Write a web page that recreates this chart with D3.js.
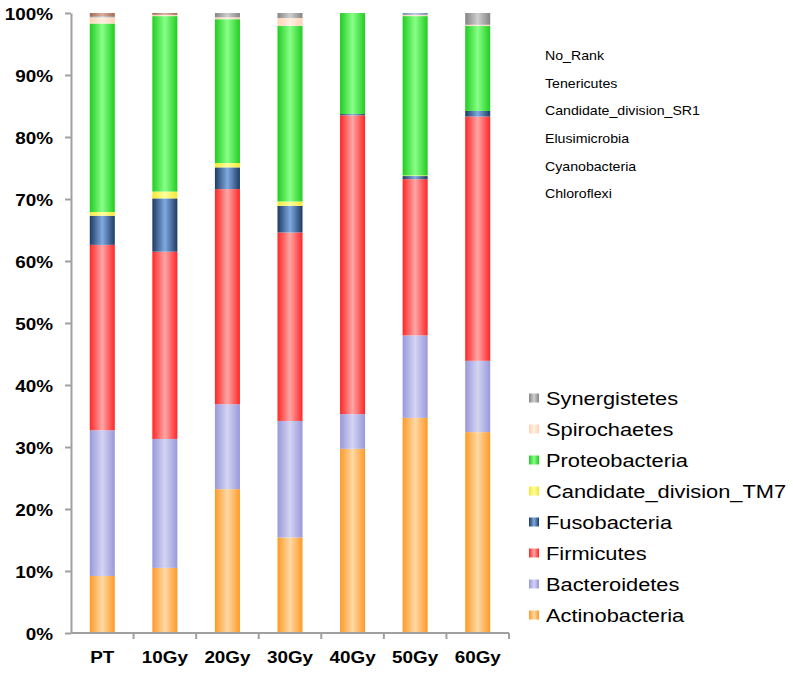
<!DOCTYPE html>
<html>
<head>
<meta charset="utf-8">
<script src="https://cdn.jsdelivr.net/npm/d3@7"></script>
<style>
  body { margin: 0; background: #fff; }
  text { font-family: Arial, "Liberation Sans", sans-serif; fill: #000; }
</style>
</head>
<body>
<svg id="chart" width="793" height="674"></svg>
<script>
// Data (percent of reads per sample)
const samples = ["PT", "10Gy", "20Gy", "30Gy", "40Gy", "50Gy", "60Gy"];
const yTicks = [0, 0.1, 0.2, 0.3, 0.4, 0.5, 0.6, 0.7, 0.8, 0.9, 1.0];

// stacking order, bottom to top
const phyla = ["Actinobacteria", "Bacteroidetes", "Firmicutes", "Fusobacteria",
  "Candidate_division_TM7", "Proteobacteria", "Spirochaetes", "Synergistetes",
  "Chloroflexi", "Cyanobacteria", "Elusimicrobia", "Candidate_division_SR1",
  "Tenericutes", "No_Rank"];

const actinobacteria = [9.2, 10.5, 23.2, 15.4, 29.7, 34.7, 32.4];
const bacteroidetes  = [23.5, 20.8, 13.7, 18.8, 5.6, 13.3, 11.5];
const firmicutes     = [29.9, 30.2, 34.7, 30.4, 48.2, 25.2, 39.4];
const fusobacteria   = [4.7, 8.6, 3.5, 4.3, 0.2, 0.5, 0.9];
const tm7            = [0.6, 1.1, 0.7, 0.7, 0.0, 0.1, 0.0];
const proteobacteria = [30.4, 28.3, 23.2, 28.3, 16.3, 25.7, 13.7];
const spirochaetes   = [1.0, 0.2, 0.3, 1.3, 0.0, 0.2, 0.2];
const synergistetes  = [0.2, 0.0, 0.7, 0.8, 0.0, 0.0, 1.9];
const chloroflexi    = [0.5, 0.3, 0.0, 0.0, 0.0, 0.0, 0.0];
const cyanobacteria  = [0.0, 0.0, 0.0, 0.0, 0.0, 0.3, 0.0];
const elusimicrobia  = [0, 0, 0, 0, 0, 0, 0];
const sr1            = [0, 0, 0, 0, 0, 0, 0];
const tenericutes    = [0, 0, 0, 0, 0, 0, 0];
const noRank         = [0, 0, 0, 0, 0, 0, 0];

const seriesValues = [actinobacteria, bacteroidetes, firmicutes, fusobacteria, tm7,
  proteobacteria, spirochaetes, synergistetes, chloroflexi, cyanobacteria,
  elusimicrobia, sr1, tenericutes, noRank];

// [edge, centre] colours for the horizontal bar shading
const shades = {
  "Actinobacteria": ["#ff9a26", "#ffd9a6"],
  "Bacteroidetes": ["#9898dc", "#d4d4f2"],
  "Firmicutes": ["#ff2626", "#ffa6a6"],
  "Fusobacteria": ["#1d3b63", "#80aae2"],
  "Candidate_division_TM7": ["#f4e830", "#ffffa0"],
  "Proteobacteria": ["#22cc22", "#88ff88"],
  "Spirochaetes": ["#ffd2b4", "#fff0e4"],
  "Synergistetes": ["#858585", "#cfcfcf"],
  "Chloroflexi": ["#a46a50", "#d8b0a0"],
  "Cyanobacteria": ["#7088b0", "#b8c8e0"],
  "Elusimicrobia": ["#ffffff", "#ffffff"],
  "Candidate_division_SR1": ["#ffffff", "#ffffff"],
  "Tenericutes": ["#ffffff", "#ffffff"],
  "No_Rank": ["#ffffff", "#ffffff"]
};

const bigLegend = ["Synergistetes", "Spirochaetes", "Proteobacteria", "Candidate_division_TM7",
  "Fusobacteria", "Firmicutes", "Bacteroidetes", "Actinobacteria"];
const smallLegend = ["No_Rank", "Tenericutes", "Candidate_division_SR1", "Elusimicrobia",
  "Cyanobacteria", "Chloroflexi"];

const table = samples.map((s, i) => {
  const row = { sample: s };
  phyla.forEach((p, j) => { row[p] = seriesValues[j][i] / 100; });
  return row;
});

const svg = d3.select("#chart");
const stretch = 1.18; // text in the source image is a bit wide
const boldStretch = 1.11;

const plotLeft = 71, plotRight = 509, plotTop = 13, plotBottom = 633;
const x = d3.scaleBand().domain(samples).range([plotLeft, plotRight]);
const y = d3.scaleLinear().domain([0, 1]).range([plotBottom, plotTop]);
const barW = x.bandwidth() * 0.4;

// gradients
const defs = svg.append("defs");
phyla.forEach((p, i) => {
  const g = defs.append("linearGradient").attr("id", "grad" + i)
    .attr("x1", "0").attr("x2", "1").attr("y1", "0").attr("y2", "0");
  g.append("stop").attr("offset", "0").attr("stop-color", shades[p][0]);
  g.append("stop").attr("offset", "0.5").attr("stop-color", shades[p][1]);
  g.append("stop").attr("offset", "1").attr("stop-color", shades[p][0]);
});

const stacked = d3.stack().keys(phyla)(table);

svg.append("g").selectAll("g")
  .data(stacked)
  .join("g")
  .attr("fill", (d, i) => `url(#grad${i})`)
  .selectAll("rect")
  .data(d => d)
  .join("rect")
  .attr("x", d => x(d.data.sample) + (x.bandwidth() - barW) / 2)
  .attr("y", d => y(d[1]))
  .attr("width", barW)
  .attr("height", d => Math.max(0, y(d[0]) - y(d[1])));

// Y axis
const yAxis = svg.append("g")
  .attr("transform", `translate(${plotLeft},0)`)
  .call(d3.axisLeft(y).tickValues(yTicks).tickFormat(d3.format(".0%")).tickSize(6).tickSizeOuter(0));
yAxis.select(".domain").attr("stroke", "#a0a0a0").attr("stroke-width", 2);
yAxis.selectAll(".tick line").attr("stroke", "#a0a0a0").attr("stroke-width", 2);
yAxis.selectAll(".tick text").remove();
yAxis.selectAll(".tick").append("text")
  .attr("transform", `translate(-18,0) scale(${boldStretch},1)`)
  .attr("dy", "0.36em")
  .attr("text-anchor", "end")
  .style("font-size", "17px")
  .style("font-weight", "bold")
  .text(d => d3.format(".0%")(d));

// X axis
const xAxis = svg.append("g").attr("transform", `translate(0,${plotBottom})`);
xAxis.append("line")
  .attr("x1", plotLeft).attr("x2", plotRight)
  .attr("stroke", "#a0a0a0").attr("stroke-width", 2);
xAxis.selectAll("line.tk")
  .data(samples.slice(1).map(s => x(s)).concat([plotRight]))
  .join("line")
  .attr("class", "tk")
  .attr("x1", d => d).attr("x2", d => d)
  .attr("y1", 0).attr("y2", 6)
  .attr("stroke", "#a0a0a0").attr("stroke-width", 2);
xAxis.selectAll("g.lbl")
  .data(samples)
  .join("g")
  .attr("class", "lbl")
  .attr("transform", d => `translate(${x(d) + x.bandwidth() / 2},30) scale(${boldStretch},1)`)
  .append("text")
  .attr("text-anchor", "middle")
  .style("font-size", "17px")
  .style("font-weight", "bold")
  .text(d => d);

// big legend
const legend = svg.append("g");
bigLegend.forEach((p, i) => {
  const cy = 398 + i * 31;
  const k = phyla.indexOf(p);
  legend.append("rect")
    .attr("x", 529).attr("y", cy - 4.5)
    .attr("width", 10).attr("height", 9)
    .attr("fill", `url(#grad${k})`);
  legend.append("text")
    .attr("transform", `translate(546,${cy + 6.5}) scale(${stretch},1)`)
    .style("font-size", "18.5px")
    .text(p);
});

// small legend entries (no visible swatch)
smallLegend.forEach((p, i) => {
  const cy = 55.5 + i * 27.7;
  legend.append("text")
    .attr("transform", `translate(545,${cy + 4.3}) scale(${stretch},1)`)
    .style("font-size", "12px")
    .text(p);
});
</script>
</body>
</html>
